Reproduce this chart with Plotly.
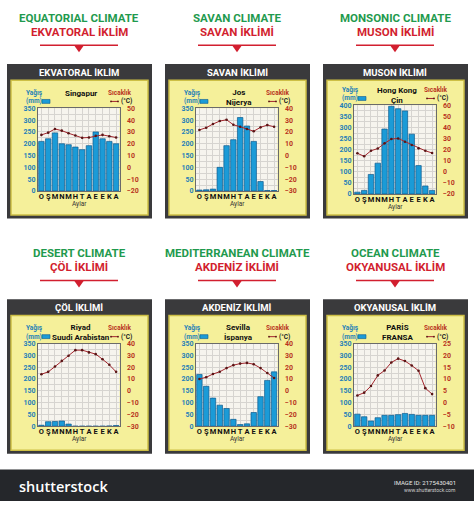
import plotly.graph_objects as go

W, H = 474, 505

months = ["O", "Ş", "M", "N", "M", "H", "T", "A", "E", "E", "K", "A"]

singapur_rain = [210, 221, 246, 200, 196, 186, 175, 192, 250, 221, 210, 200]
singapur_temp = [27.5, 29.4, 32.5, 31.1, 28.9, 27, 25, 25.3, 26.7, 27.5, 26.4, 25.3]
jos_rain = [4, 5, 8, 100, 192, 217, 311, 275, 210, 40, 2, 2]
jos_temp = [21.7, 23.6, 26.7, 29.2, 30.3, 26.1, 24.4, 22.5, 20.6, 23.9, 25.8, 24.4]
hk_rain = [8, 16, 88, 139, 293, 396, 385, 375, 270, 128, 36, 16]
hk_temp = [16.7, 14, 19, 21, 25.7, 29.6, 30.1, 27.2, 24.2, 21.2, 19, 17]
riyad_rain = [4, 19, 20, 22, 9, 0, 0, 0, 0, 0, 1, 3]
riyad_temp = [14, 16, 20.5, 25.3, 29.7, 34.4, 34.4, 32.5, 31, 26.7, 22, 16]
sevilla_rain = [219, 169, 119, 89, 75, 29, 7, 10, 58, 125, 194, 230]
sevilla_temp = [10, 11.4, 14.2, 16.1, 19.2, 21.7, 23, 23.6, 22.5, 19.2, 15, 10.8]
paris_rain = [51, 40, 22, 36, 46, 46, 49, 54, 50, 46, 46, 46]
paris_temp = [3, 4.2, 7, 11.5, 13.6, 17, 18.6, 17.6, 15.7, 13.5, 6.1, 3.6]

en_titles = ["EQUATORIAL CLIMATE", "SAVAN CLIMATE", "MONSONIC CLIMATE",
             "DESERT CLIMATE", "MEDITERRANEAN CLIMATE", "OCEAN CLIMATE"]
tr_titles = ["EKVATORAL İKLİM", "SAVAN İKLİMİ", "MUSON İKLİMİ",
             "ÇÖL İKLİMİ", "AKDENİZ İKLİMİ", "OKYANUSAL İKLİM"]
headers = ["EKVATORAL İKLİM", "SAVAN İKLİMİ", "MUSON İKLİMİ",
           "ÇÖL İKLİMİ", "AKDENİZ İKLİMİ", "OKYANUSAL İKLİM"]
places = ["Singapur", "Jos<br>Nijerya", "Hong Kong<br>Çin",
          "Riyad<br>Suudi Arabistan", "Sevilla<br>İspanya", "PARİS<br>FRANSA"]
rains = [singapur_rain, jos_rain, hk_rain, riyad_rain, sevilla_rain, paris_rain]
temps = [singapur_temp, jos_temp, hk_temp, riyad_temp, sevilla_temp, paris_temp]
rain_max = [350, 350, 400, 350, 350, 350]
temp_ranges = [(-20, 50, 10), (-30, 40, 10), (-20, 60, 10),
               (-30, 40, 10), (-30, 40, 10), (-10, 25, 5)]

FONT = "Roboto"
GREEN = "#1f9a4e"
RED = "#d21f2f"
DARK = "#3a3a3c"
YEL = "#f5f09a"
YEL_EDGE = "#cdbf45"
PLOT_BG = "#f6f4ee"
GRID = "#d6d4d0"
BLUE_TXT = "#1f7fb8"
TEMP_TXT = "#b8341f"
BAR = "#1b9bd7"
BAR_EDGE = "#0e5a8e"
LINE = "#a3262e"


def fx(x):
    return x / W


def fy(y):
    return 1 - y / H


def text(x, y, s, size, color, anchor="center", bold=True, family=FONT, weight=None):
    return dict(x=fx(x), y=fy(y), xref="paper", yref="paper", text=s,
                showarrow=False, xanchor=anchor, yanchor="middle",
                font=dict(family=family, size=size, color=color,
                          weight=weight if weight else ("bold" if bold else "normal")))


fig = go.Figure()
shapes = []
ann = []

for i in range(6):
    col, row = i % 3, i // 3
    x0 = [0, 158, 316][col]
    ro = 239 * row
    cx = x0 + 79
    pl, pr = x0 + 38, x0 + 119.5
    if i == 2:
        pt, pb = 103, 193
    else:
        pt, pb = 106 + ro, 190 + ro

    ann.append(text(cx, 14 + ro, en_titles[i], 11.5, GREEN))
    ann.append(text(cx, 28 + ro, tr_titles[i], 11.5, RED))
    shapes.append(dict(type="line", xref="paper", yref="paper",
                       x0=fx(x0 + 40), x1=fx(x0 + 118), y0=fy(42 + ro), y1=fy(42 + ro),
                       line=dict(color=RED, width=1.5)))
    shapes.append(dict(type="path", xref="paper", yref="paper",
                       path=f"M {fx(cx-5)},{fy(42+ro)} L {fx(cx+5)},{fy(42+ro)} L {fx(cx)},{fy(49+ro)} Z",
                       fillcolor=RED, line=dict(width=0)))
    shapes.append(dict(type="rect", xref="paper", yref="paper", layer="below",
                       x0=fx(x0 + 7), x1=fx(x0 + 152), y0=fy(61 + ro), y1=fy(218 + ro),
                       fillcolor=DARK, line=dict(width=0)))
    shapes.append(dict(type="rect", xref="paper", yref="paper", layer="below",
                       x0=fx(x0 + 11), x1=fx(x0 + 148), y0=fy(77.5 + ro), y1=fy(214.5 + ro),
                       fillcolor=YEL, line=dict(color=YEL_EDGE, width=1.5)))
    shapes.append(dict(type="rect", xref="paper", yref="paper", layer="below",
                       x0=fx(pl), x1=fx(pr), y0=fy(pb), y1=fy(pt),
                       fillcolor=PLOT_BG, line=dict(width=0)))
    ann.append(text(cx, 69.5 + ro, headers[i], 9.5, "white"))

    ty = (91 if i == 0 else (95 if i != 2 else 92.5)) + ro
    ann.append(text(cx + 2, ty, places[i], 8, "#111"))
    if i == 2:
        ly1, ly2 = 87, 96
    else:
        ly1, ly2 = 90 + ro, 99 + ro
    ann.append(text(x0 + 24, ly1, "Yağış", 6.5, BLUE_TXT, "left"))
    ann.append(text(x0 + 24, ly2, "(mm)", 6.5, BLUE_TXT, "left"))
    shapes.append(dict(type="rect", xref="paper", yref="paper",
                       x0=fx(x0 + 42), x1=fx(x0 + 50), y0=fy(ly2 - 2), y1=fy(ly2 + 2),
                       fillcolor=BAR, line=dict(color=BAR_EDGE, width=0.6)))
    ann.append(text(x0 + 134, ly1, "Sıcaklık", 6.5, TEMP_TXT, "right"))
    ann.append(text(x0 + 134, ly2, "(°C)", 6.5, "#222", "right"))
    shapes.append(dict(type="line", xref="paper", yref="paper",
                       x0=fx(x0 + 111), x1=fx(x0 + 118), y0=fy(ly2), y1=fy(ly2),
                       line=dict(color=LINE, width=1)))
    for ex in (111, 118):
        shapes.append(dict(type="circle", xref="paper", yref="paper",
                           x0=fx(x0 + ex - 0.9), x1=fx(x0 + ex + 0.9),
                           y0=fy(ly2 - 0.9), y1=fy(ly2 + 0.9),
                           fillcolor="#5a1515", line=dict(width=0)))
    ann.append(text(cx, pb + 13.5, "Aylar", 6.5, "#333", bold=False))

    xa = f"x{i+1}" if i else "x"
    yl = f"y{2*i+1}" if i else "y"
    yr = f"y{2*i+2}"
    xkey = f"xaxis{i+1}" if i else "xaxis"
    ylkey = f"yaxis{2*i+1}" if i else "yaxis"
    yrkey = f"yaxis{2*i+2}"

    fig.add_trace(go.Bar(x=list(range(12)), y=rains[i], xaxis=xa, yaxis=yl,
                         marker=dict(color=BAR, line=dict(color=BAR_EDGE, width=0.7)),
                         showlegend=False, hoverinfo="skip"))
    fig.add_trace(go.Scatter(x=list(range(12)), y=temps[i], xaxis=xa, yaxis=yr,
                             mode="lines+markers",
                             line=dict(color=LINE, width=1),
                             marker=dict(size=2.6, color="#5a1515"),
                             showlegend=False, hoverinfo="skip"))

    tmin, tmax, tstep = temp_ranges[i]
    fig.layout[xkey] = dict(domain=[fx(pl), fx(pr)], range=[-0.5, 11.5],
                            tickmode="array", tickvals=list(range(12)), ticktext=months,
                            showgrid=True, gridcolor=GRID, gridwidth=0.5,
                            zeroline=False, showline=True, linecolor="#6a6a6a",
                            linewidth=1, mirror=True, anchor=yl, ticks="",
                            tickangle=0, fixedrange=True, ticklabelstandoff=-2,
                            tickfont=dict(family=FONT, size=7.5, color="#111", weight="bold"))
    fig.layout[ylkey] = dict(domain=[fy(pb), fy(pt)], range=[0, rain_max[i]],
                             tickmode="linear", tick0=0, dtick=50,
                             showgrid=True, gridcolor=GRID, gridwidth=0.5,
                             minor=dict(dtick=25, showgrid=True, gridcolor=GRID, gridwidth=0.5),
                             zeroline=False, showline=True, linecolor="#6a6a6a",
                             linewidth=1, anchor=xa, ticks="", fixedrange=True,
                             tickfont=dict(family=FONT, size=7, color=BLUE_TXT, weight="bold"))
    fig.layout[yrkey] = dict(domain=[fy(pb), fy(pt)], range=[tmin, tmax],
                             tickmode="linear", tick0=tmin, dtick=tstep,
                             overlaying=yl, side="right", anchor=xa,
                             showgrid=False, zeroline=False, showline=True,
                             linecolor="#6a6a6a", linewidth=1, ticks="",
                             ticklabelstandoff=5, fixedrange=True,
                             tickfont=dict(family=FONT, size=7, color=TEMP_TXT, weight="bold"))

shapes.append(dict(type="rect", xref="paper", yref="paper",
                   x0=0, x1=1, y0=0, y1=fy(473), fillcolor="#25272b", line=dict(width=0)))
ann.append(text(17, 490, "shutterstock", 14.5, "white", "left", True, "Open Sans", weight=600))
ann.append(text(458, 486, "IMAGE ID: 2175430401", 6, "#e8e8e8", "right", False))
ann.append(text(458, 494, "www.shutterstock.com", 5, "#cfcfcf", "right", False))

fig.update_layout(width=W, height=H, margin=dict(l=0, r=0, t=0, b=0),
                  paper_bgcolor="white", plot_bgcolor="rgba(0,0,0,0)",
                  bargap=0.2, shapes=shapes, annotations=ann, showlegend=False)

fig.write_html("out.html", config={"displayModeBar": False},
               post_script="document.body.style.margin='0';")
